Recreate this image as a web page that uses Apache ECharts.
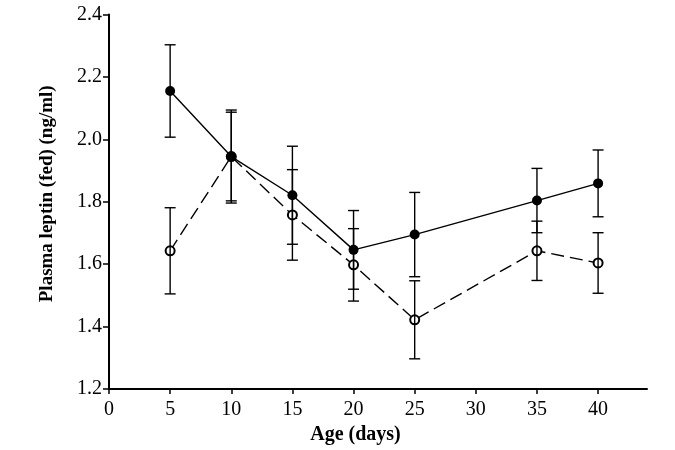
<!DOCTYPE html>
<html><head><meta charset="utf-8">
<script src="https://cdn.jsdelivr.net/npm/echarts@6/dist/echarts.min.js"></script>
<style>html,body{margin:0;padding:0;background:#fff}#c{width:675px;height:450px}</style>
</head><body><div id="c"></div>
<script>
const ages = [5, 10, 15, 20, 25, 35, 40];
const solidMean = [2.155, 1.945, 1.821, 1.646, 1.695, 1.804, 1.859];
const solidErr = [0.148, 0.149, 0.157, 0.126, 0.135, 0.103, 0.107];
const openMean = [1.643, 1.945, 1.758, 1.598, 1.422, 1.643, 1.604];
const openErr = [0.138, 0.142, 0.145, 0.116, 0.125, 0.095, 0.097];
const xTickValues = [0, 5, 10, 15, 20, 25, 30, 35, 40];

const FONT = 'Liberation Serif';
const pts = (m) => ages.map((a, i) => [a, m[i]]);
const bars = (m, e) => ages.map((a, i) => [a, m[i] - e[i], m[i] + e[i]]);

function errRender(params, api) {
  const x = api.value(0), lo = api.value(1), hi = api.value(2);
  const top = api.coord([x, hi]), bot = api.coord([x, lo]);
  const w = 5.5;
  const st = { stroke: '#000', lineWidth: 1.4 };
  return { type: 'group', children: [
    { type: 'line', shape: { x1: top[0], y1: top[1], x2: bot[0], y2: bot[1] }, style: st },
    { type: 'line', shape: { x1: top[0] - w, y1: top[1], x2: top[0] + w, y2: top[1] }, style: st },
    { type: 'line', shape: { x1: bot[0] - w, y1: bot[1], x2: bot[0] + w, y2: bot[1] }, style: st }
  ]};
}

const chart = echarts.init(document.getElementById('c'), null, { renderer: 'canvas' });
chart.setOption({
  animation: false,
  backgroundColor: '#fff',
  grid: { left: 109, right: 28, top: 14.5, bottom: 59, containLabel: false },
  xAxis: {
    type: 'value', min: 0, max: 44, interval: 5,
    name: 'Age (days)', nameLocation: 'middle', nameGap: 33,
    nameTextStyle: { fontFamily: FONT, fontWeight: 'bold', fontSize: 20, color: '#000', padding: [0, 45, 0, 0] },
    axisLine: { show: true, lineStyle: { color: '#000', width: 2 } },
    axisTick: { show: true, length: 5, lineStyle: { color: '#000', width: 1.5 }, customValues: xTickValues },
    axisLabel: { fontFamily: FONT, fontSize: 20, color: '#000', margin: 11, customValues: xTickValues },
    splitLine: { show: false }
  },
  yAxis: {
    type: 'value', min: 1.2, max: 2.4, interval: 0.2,
    name: 'Plasma leptin (fed) (ng/ml)', nameLocation: 'middle', nameGap: 52,
    nameTextStyle: { fontFamily: FONT, fontWeight: 'bold', fontSize: 19, color: '#000', padding: [0, 0, 0, 16] },
    axisLine: { show: true, lineStyle: { color: '#000', width: 2 } },
    axisTick: { show: true, length: 6, lineStyle: { color: '#000', width: 1.5 } },
    axisLabel: { fontFamily: FONT, fontSize: 20, color: '#000', margin: 7, formatter: v => v.toFixed(1) },
    splitLine: { show: false }
  },
  series: [
    { type: 'line', data: pts(openMean), symbol: 'emptyCircle', symbolSize: 9,
      lineStyle: { color: '#000', width: 1.4, type: [13, 6] }, itemStyle: { color: '#000', borderColor: '#000', borderWidth: 1.2 }, z: 2 },
    { type: 'line', data: pts(solidMean), symbol: 'circle', symbolSize: 10,
      lineStyle: { color: '#000', width: 1.4 }, itemStyle: { color: '#000' }, z: 3 },
    { type: 'custom', data: bars(solidMean, solidErr), renderItem: errRender, encode: { x: 0, y: [1, 2] }, z: 4 },
    { type: 'custom', data: bars(openMean, openErr), renderItem: errRender, encode: { x: 0, y: [1, 2] }, z: 4 }
  ]
});
</script></body></html>
